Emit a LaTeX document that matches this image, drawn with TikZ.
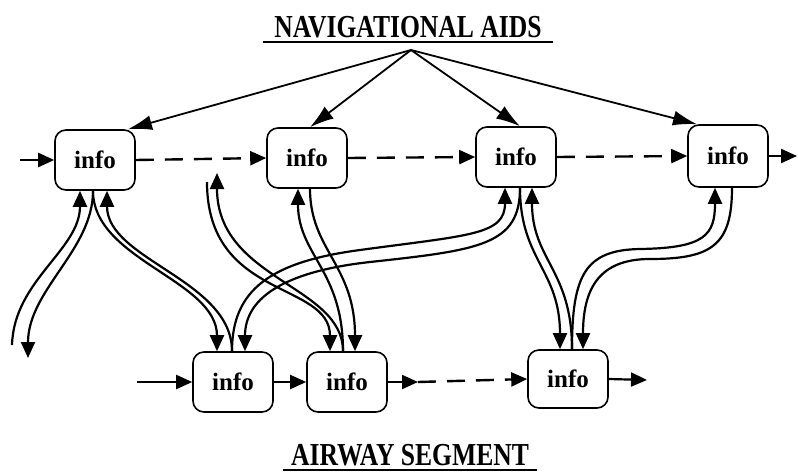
\documentclass[tikz,border=0pt]{standalone}
\usepackage{fontspec}
\setmainfont{Liberation Serif}
\newfontfamily\titlefont[FakeStretch=0.8]{Liberation Serif}
\usetikzlibrary{arrows.meta}
\begin{document}
\begin{tikzpicture}[x=1pt,y=-1pt,
  box/.style={draw, line width=1.6pt, rounded corners=11pt, minimum width=80pt,
    minimum height=60pt, inner sep=0pt, font=\bfseries\fontsize{25}{28}\selectfont},
  conn/.style={line width=2.2pt},
  tip/.style={-{Triangle[length=16pt,width=14pt]}},
  blob/.style={-{Latex[length=24pt,width=15pt]}},
  dashline/.style={line width=2.4pt, dash pattern=on 18pt off 11pt},
  title/.style={inner sep=0pt, font=\titlefont\bfseries\fontsize{32}{36}\selectfont}]
\fill[white] (0,0) rectangle (798,472);
\useasboundingbox (0,0) rectangle (798,472);

% titles
\node[title, anchor=base] (nav) at (408,37) {NAVIGATIONAL AIDS};
\node[title, anchor=base] (air) at (410,465) {AIRWAY SEGMENT};
\draw[line width=2pt] ([xshift=-11pt,yshift=-5pt]nav.base west) -- ([xshift=11pt,yshift=-5pt]nav.base east);
\draw[line width=2pt] ([xshift=-8pt,yshift=-5pt]air.base west) -- ([xshift=8pt,yshift=-5pt]air.base east);

% nodes
\node[box] (T1) at (95,160) {info};
\node[box] (T2) at (307,158) {info};
\node[box] (T3) at (516,157) {info};
\node[box, minimum height=62pt] (T4) at (728,156) {info};
\node[box] (B1) at (233,382) {info};
\node[box] (B2) at (347,382) {info};
\node[box, minimum height=58pt] (B3) at (568,379) {info};

% free ends
\coordinate (apex) at (411,50);
\coordinate (in1) at (20,160);
\coordinate (out1) at (797,156);
\coordinate (in2) at (137,382);
\coordinate (mid2) at (418,382);
\coordinate (out2) at (647,380);
\coordinate (fs1) at (12,345);
\coordinate (fe1) at (28,358);
\coordinate (fs2) at (207,182);
\coordinate (fe2) at (217,173);

% attachment points
\coordinate (k1) at ([xshift=33pt]T1.north);
\coordinate (k2) at ([xshift=3pt]T2.north);
\coordinate (k3) at ([xshift=4pt]T3.north);
\coordinate (k4) at ([xshift=-31pt]T4.north);
\coordinate (t1a) at ([xshift=-15pt]T1.south);
\coordinate (t1o) at ([xshift=-2pt]T1.south);
\coordinate (t1b) at ([xshift=12pt]T1.south);
\coordinate (t2a) at ([xshift=-9pt]T2.south);
\coordinate (t2o) at ([xshift=3pt]T2.south);
\coordinate (t3a) at ([xshift=-11pt]T3.south);
\coordinate (t3o) at ([xshift=4pt]T3.south);
\coordinate (t3b) at ([xshift=16pt]T3.south);
\coordinate (t4a) at ([xshift=-13pt]T4.south);
\coordinate (t4o) at ([xshift=4pt]T4.south);
\coordinate (b1a) at ([xshift=-16pt]B1.north);
\coordinate (b1o) at ([xshift=-1pt]B1.north);
\coordinate (b1b) at ([xshift=12pt]B1.north);
\coordinate (b2a) at ([xshift=-17pt]B2.north);
\coordinate (b2o) at ([xshift=-4pt]B2.north);
\coordinate (b2b) at ([xshift=8pt]B2.north);
\coordinate (b3a) at ([xshift=-8pt]B3.north);
\coordinate (b3o) at ([xshift=4pt]B3.north);
\coordinate (b3b) at ([xshift=15pt]B3.north);

% navigational aids fan
\draw[line width=1.8pt, blob] (apex) -- (k1);
\draw[line width=1.8pt, blob] (apex) -- (k2);
\draw[line width=1.8pt, blob] (apex) -- (k3);
\draw[line width=1.8pt, blob] (apex) -- (k4);

% top chain
\draw[dashline, tip] (in1) -- (T1.west);
\draw[dashline, tip] (T1.east) -- (T2.west);
\draw[dashline, tip] (T2.east) -- (T3.west);
\draw[dashline, tip] (T3.east) -- (T4.west);
\draw[conn, tip] (T4.east) -- (out1);

% bottom chain
\draw[conn, tip] (in2) -- (B1.west);
\draw[conn, tip] (B1.east) -- (B2.west);
\draw[conn, tip] (B2.east) -- (mid2);
\draw[dashline, tip] (mid2) -- (B3.west);
\draw[conn, tip] (B3.east) -- (out2);

% T1 <-> free
\draw[conn, tip] (fs1) .. controls (14,280) and (80,250) .. (t1a);
\draw[conn, tip] (t1o) .. controls (93,250) and (28,290) .. (fe1);
% T1 <-> B1
\draw[conn, tip] (t1o) .. controls (93,260) and (217,280) .. (b1a);
\draw[conn, tip] (b1o) .. controls (232,280) and (107,260) .. (t1b);
% free <-> B2
\draw[conn, tip] (fs2) .. controls (207,300) and (330,281) .. (b2a);
\draw[conn, tip] (b2o) .. controls (343,285) and (217,280) .. (fe2);
% T2 <-> B2
\draw[conn, tip] (t2o) .. controls (310,250) and (355,265) .. (b2b);
\draw[conn, tip] (b2o) .. controls (343,270) and (298,255) .. (t2a);
% B1 <-> T3
\draw[conn, tip] (b1o) .. controls (232,290) and (270,262) .. (360,250)
  .. controls (470,235) and (505,235) .. (t3a);
\draw[conn, tip] (t3o) .. controls (520,245) and (480,250) .. (370,262)
  .. controls (280,272) and (245,300) .. (b1b);
% T3 <-> B3
\draw[conn, tip] (t3o) .. controls (520,260) and (560,270) .. (b3a);
\draw[conn, tip] (b3o) .. controls (572,270) and (532,260) .. (t3b);
% B3 <-> T4
\draw[conn, tip] (b3o) .. controls (572,275) and (585,250) .. (640,249)
  .. controls (705,248) and (715,235) .. (t4a);
\draw[conn, tip] (t4o) .. controls (732,245) and (712,259) .. (650,259)
  .. controls (598,259) and (583,290) .. (b3b);
\end{tikzpicture}
\end{document}
